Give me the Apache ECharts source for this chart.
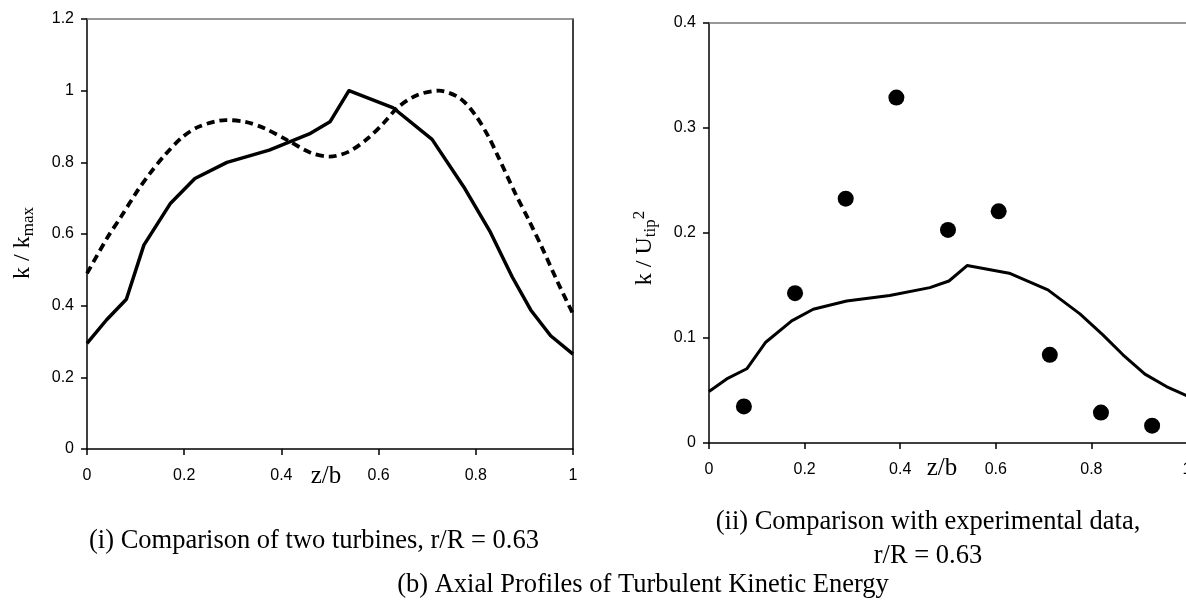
<!DOCTYPE html>
<html><head><meta charset="utf-8">
<script src="https://cdn.jsdelivr.net/npm/echarts@6/dist/echarts.min.js"></script>
<style>html,body{margin:0;padding:0;background:#fff}#c{width:1186px;height:605px}</style>
</head><body><div id="c"></div>
<script>
// ---- data ----
const xTicks = [0, 0.2, 0.4, 0.6, 0.8, 1];
const leftYTicks = [0, 0.2, 0.4, 0.6, 0.8, 1, 1.2];
const rightYTicks = [0, 0.1, 0.2, 0.3, 0.4];

// (i) solid turbine profile, k/kmax
const turbineSolid = [
  [0, 0.295], [0.04, 0.36], [0.081, 0.418], [0.117, 0.569], [0.172, 0.686],
  [0.222, 0.755], [0.288, 0.80], [0.375, 0.834], [0.46, 0.881], [0.50, 0.913],
  [0.539, 1.0], [0.629, 0.953], [0.71, 0.864], [0.775, 0.732], [0.83, 0.605],
  [0.875, 0.48], [0.913, 0.388], [0.954, 0.316], [1.0, 0.265]
];
// (i) dashed turbine profile, k/kmax
const turbineDashed = [
  [0, 0.49], [0.042, 0.59], [0.07, 0.648], [0.105, 0.723], [0.13, 0.77],
  [0.16, 0.82], [0.196, 0.87], [0.231, 0.90], [0.286, 0.918], [0.326, 0.913],
  [0.365, 0.895], [0.412, 0.862], [0.46, 0.827], [0.499, 0.816], [0.539, 0.83],
  [0.578, 0.867], [0.61, 0.909], [0.641, 0.955], [0.68, 0.988], [0.724, 1.0],
  [0.767, 0.979], [0.799, 0.932], [0.826, 0.872], [0.846, 0.816], [0.881, 0.714],
  [0.909, 0.639], [0.937, 0.56], [0.968, 0.467], [1.0, 0.377]
];
// (ii) computed profile, k/Utip^2
const cfdProfile = [
  [0, 0.049], [0.037, 0.061], [0.079, 0.0707], [0.118, 0.0957], [0.173, 0.1163],
  [0.218, 0.1274], [0.288, 0.1353], [0.378, 0.1405], [0.462, 0.148], [0.502, 0.1543],
  [0.54, 0.169], [0.628, 0.1617], [0.709, 0.1458], [0.776, 0.123], [0.824, 0.103],
  [0.866, 0.084], [0.912, 0.0656], [0.957, 0.0538], [1.0, 0.045]
];
// (ii) experimental data, k/Utip^2
const experiment = [
  [0.073, 0.0348], [0.18, 0.1427], [0.286, 0.2327], [0.392, 0.329], [0.50, 0.2029],
  [0.606, 0.2206], [0.713, 0.084], [0.82, 0.029], [0.927, 0.0165]
];

// ---- chart ----
const tickFont = 'Liberation Sans, Arial, sans-serif';
const serif = 'Liberation Serif, Times New Roman, serif';

function mainAxis(grid, ticks, position) {
  return {
    gridIndex: grid, type: 'value', position: position,
    min: ticks[0], max: ticks[ticks.length - 1], interval: ticks[1] - ticks[0],
    axisLine: {show: true, onZero: false, lineStyle: {color: '#000', width: 1.5}},
    axisTick: {show: true, length: 6, lineStyle: {color: '#000', width: 1.5}},
    axisLabel: {show: true, fontFamily: tickFont, fontSize: 16, color: '#000',
      margin: (position === 'left') ? 13 : 19, showMinLabel: true, showMaxLabel: true,
      hideOverlap: false},
    splitLine: {show: false}
  };
}
function borderAxis(grid, ticks, position, color) {
  return {
    gridIndex: grid, type: 'value', position: position,
    min: ticks[0], max: ticks[ticks.length - 1], interval: ticks[1] - ticks[0],
    axisLine: {show: true, onZero: false, lineStyle: {color: color, width: 1.5}},
    axisTick: {show: false}, axisLabel: {show: false}, splitLine: {show: false}
  };
}

const chart = echarts.init(document.getElementById('c'), null, {renderer: 'canvas'});
const sub = {fontFamily: serif, fontSize: 17, lineHeight: 17, verticalAlign: 'bottom', fill: '#000'};
const sup = {fontFamily: serif, fontSize: 17, lineHeight: 17, verticalAlign: 'top', fill: '#000'};

chart.setOption({
  animation: false,
  backgroundColor: '#fff',
  grid: [
    {left: 87, top: 19, width: 486, height: 430, outerBoundsMode: 'none', containLabel: false},
    {left: 709, top: 23, width: 478, height: 420, outerBoundsMode: 'none', containLabel: false}
  ],
  xAxis: [
    mainAxis(0, xTicks, 'bottom'),
    borderAxis(0, xTicks, 'top', '#777'),
    mainAxis(1, xTicks, 'bottom'),
    borderAxis(1, xTicks, 'top', '#777')
  ],
  yAxis: [
    mainAxis(0, leftYTicks, 'left'),
    borderAxis(0, leftYTicks, 'right', '#000'),
    mainAxis(1, rightYTicks, 'left')
  ],
  series: [
    {type: 'line', xAxisIndex: 0, yAxisIndex: 0, data: turbineSolid, symbol: 'none',
      lineStyle: {color: '#000', width: 3.5, join: 'round'}},
    {type: 'line', xAxisIndex: 0, yAxisIndex: 0, data: turbineDashed, symbol: 'none', smooth: 0.3,
      lineStyle: {color: '#000', width: 3.8, type: [8, 5]}},
    {type: 'line', xAxisIndex: 2, yAxisIndex: 2, data: cfdProfile, symbol: 'none',
      lineStyle: {color: '#000', width: 3, join: 'round'}},
    {type: 'scatter', xAxisIndex: 2, yAxisIndex: 2, data: experiment, symbol: 'circle',
      symbolSize: 16, itemStyle: {color: '#000', opacity: 1}}
  ],
  graphic: [
    {type: 'text', x: 326, y: 476, style: {text: 'z/b', font: '25px ' + serif, fill: '#000', align: 'center', verticalAlign: 'middle'}},
    {type: 'text', x: 942, y: 468, style: {text: 'z/b', font: '25px ' + serif, fill: '#000', align: 'center', verticalAlign: 'middle'}},
    {type: 'text', x: 23, y: 243, rotation: Math.PI / 2,
      style: {text: 'k / k{sub|max}', font: '24px ' + serif, lineHeight: 28, fill: '#000', align: 'center', verticalAlign: 'middle', rich: {sub: sub}}},
    {type: 'text', x: 645, y: 248, rotation: Math.PI / 2,
      style: {text: 'k / U{sub|tip}{sup|2}', font: '24px ' + serif, lineHeight: 28, fill: '#000', align: 'center', verticalAlign: 'middle', rich: {sub: sub, sup: sup}}},
    {type: 'text', x: 314, y: 541, style: {text: '(i) Comparison of two turbines, r/R = 0.63', font: '26.5px ' + serif, fill: '#000', align: 'center', verticalAlign: 'middle'}},
    {type: 'text', x: 928, y: 522, style: {text: '(ii) Comparison with experimental data,', font: '26.5px ' + serif, fill: '#000', align: 'center', verticalAlign: 'middle'}},
    {type: 'text', x: 928, y: 556, style: {text: 'r/R = 0.63', font: '26.5px ' + serif, fill: '#000', align: 'center', verticalAlign: 'middle'}},
    {type: 'text', x: 643, y: 585, style: {text: '(b) Axial Profiles of Turbulent Kinetic Energy', font: '26.5px ' + serif, fill: '#000', align: 'center', verticalAlign: 'middle'}}
  ]
});
</script>
</body></html>
